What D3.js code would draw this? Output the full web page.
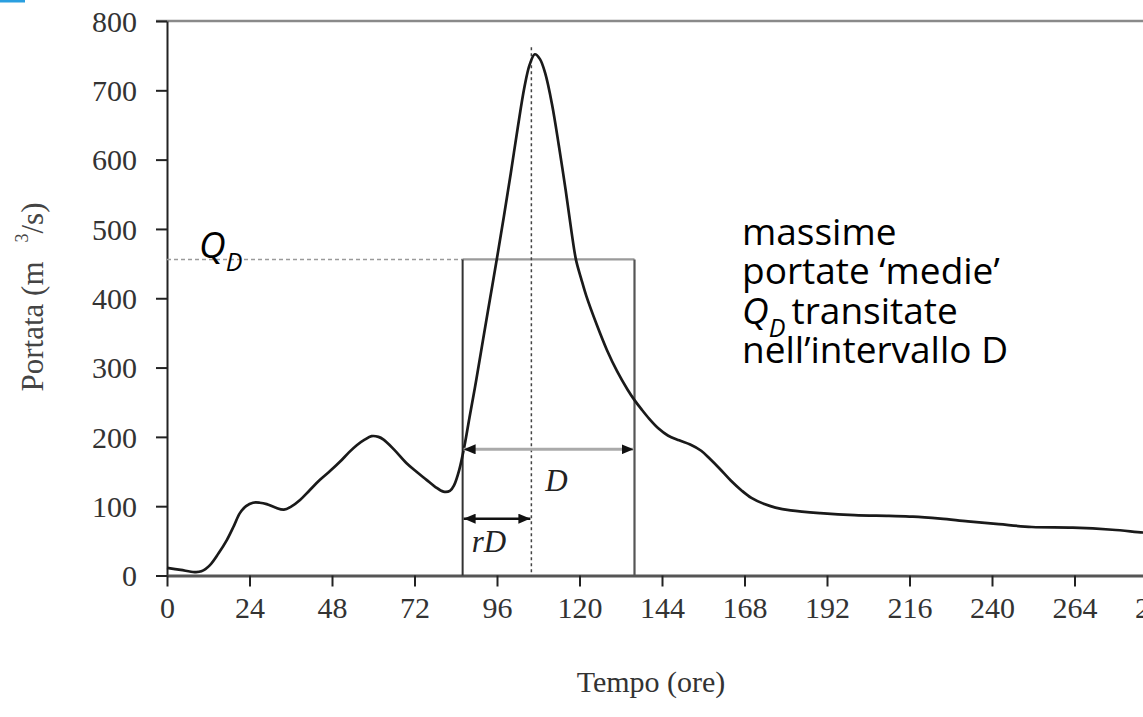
<!DOCTYPE html>
<html>
<head>
<meta charset="utf-8">
<script src="https://cdn.jsdelivr.net/npm/d3@7"></script>
<style>
  html, body { margin: 0; padding: 0; background: #fff; }
  svg { display: block; }
</style>
</head>
<body>
<svg id="chart" width="1143" height="717"></svg>
<script>
// ---- data ----
const hours   = [0, 4, 8, 10, 12.5, 15, 17.4, 19.5, 21.2, 23, 25, 27, 29, 31.5, 34, 36, 38.7, 41.5, 44.5, 47.5, 50.3, 53, 55.2, 57.5, 59.5, 61.5, 63, 66, 69.7, 72.5, 75.5, 78, 80.4, 82.3, 83.5, 85, 86.5, 88, 90, 92, 94, 96, 98, 100, 102, 104, 105.5, 107, 108.5, 110, 112, 114, 116, 117.7, 119, 120.5, 122, 125, 128, 131, 134, 136, 138, 140.3, 143, 145.7, 149, 152.2, 155.4, 158, 160.8, 164, 167.3, 170, 173.8, 177, 181.4, 190, 200, 210, 217, 225, 233, 242, 251.6, 263.5, 275, 284, 290];
const portata = [11, 8, 5, 6, 15, 32, 51, 72, 90, 100, 105, 105, 103, 98, 95, 99, 109, 123, 138, 151, 164, 178, 188, 196, 201, 200, 196, 182, 162, 150, 138, 128, 121, 122, 130, 152, 186, 228, 283, 342, 400, 458, 518, 580, 645, 705, 737, 752, 745, 725, 680, 620, 555, 495, 455, 428, 403, 362, 325, 294, 268, 253, 240, 226, 212, 202, 195, 189, 180, 168, 154, 137, 122, 112, 103, 98, 94, 90, 87, 86, 85, 82, 78, 74, 70, 69, 66, 62, 60];
const xTickValues = [0, 24, 48, 72, 96, 120, 144, 168, 192, 216, 240, 264, 288];
const yTickValues = [0, 100, 200, 300, 400, 500, 600, 700, 800];
const qD = 456;          // mean discharge over D
const dStart = 86;       // start of interval D (h)
const dEnd = 136;        // end of interval D (h)
const tPeak = 106;       // time of peak (h)
const arrowDLevel = 182;
const arrowRDLevel = 82;
const annotationLines = ["massime", "portate \u2018medie\u2019", "transitate", "nell\u2019intervallo D"];

// ---- layout ----
const svg = d3.select("#chart");
const x = d3.scaleLinear().domain([0, 288]).range([167, 1157]);
const y = d3.scaleLinear().domain([0, 800]).range([575.5, 21]);

// blue corner mark
svg.append("rect").attr("x", 0).attr("y", 0).attr("width", 25).attr("height", 2.5).attr("fill", "#2a9fe0");

// top frame line
svg.append("line")
  .attr("x1", x(0) - 11).attr("x2", 1143)
  .attr("y1", y(800)).attr("y2", y(800))
  .attr("stroke", "#8a8a8a").attr("stroke-width", 2.5);

// axes
const serif = "'Liberation Serif', 'Times New Roman', serif";
const yAxis = svg.append("g")
  .attr("transform", `translate(${x(0)},0)`)
  .call(d3.axisLeft(y).tickValues(yTickValues).tickSize(11).tickPadding(19).tickSizeOuter(0));
const xAxis = svg.append("g")
  .attr("transform", `translate(0,${y(0)})`)
  .call(d3.axisBottom(x).tickValues(xTickValues).tickSize(11).tickPadding(10).tickSizeOuter(0));

yAxis.select(".domain").attr("stroke", "#222").attr("stroke-width", 2);
yAxis.selectAll(".tick line").attr("stroke", "#222").attr("stroke-width", 2);
xAxis.select(".domain").attr("stroke", "#555").attr("stroke-width", 3);
xAxis.selectAll(".tick line").attr("stroke", "#222").attr("stroke-width", 2);
[yAxis, xAxis].forEach(g => g.selectAll(".tick text")
  .attr("font-family", serif).attr("font-size", 30).attr("fill", "#333"));
yAxis.selectAll(".tick text").attr("dy", "0.34em");

// axis titles
svg.append("text")
  .attr("x", x(144) - 11).attr("y", 692)
  .attr("text-anchor", "middle")
  .attr("font-family", serif).attr("font-size", 30).attr("fill", "#333")
  .text("Tempo (ore)");

const yTitle = svg.append("text")
  .attr("transform", "translate(43,297) rotate(-90)")
  .attr("text-anchor", "middle")
  .attr("font-family", serif).attr("font-size", 31).attr("fill", "#444");
yTitle.append("tspan").text("Portata (m");
yTitle.append("tspan").attr("dx", 19).attr("dy", -15).attr("font-size", 18).text("3");
yTitle.append("tspan").attr("dy", 15).text("/s)");

// dashed Q_D line
svg.append("line")
  .attr("x1", x(0)).attr("x2", x(dStart))
  .attr("y1", y(qD)).attr("y2", y(qD))
  .attr("stroke", "#9a9a9a").attr("stroke-width", 1.6).attr("stroke-dasharray", "4,3");

// rectangle of mean discharge
svg.append("line")
  .attr("x1", x(dStart)).attr("x2", x(dEnd))
  .attr("y1", y(qD)).attr("y2", y(qD))
  .attr("stroke", "#9a9a9a").attr("stroke-width", 2.2);
svg.append("line")
  .attr("x1", x(dStart)).attr("x2", x(dStart))
  .attr("y1", y(qD)).attr("y2", y(0))
  .attr("stroke", "#333").attr("stroke-width", 2);
svg.append("line")
  .attr("x1", x(dEnd)).attr("x2", x(dEnd))
  .attr("y1", y(qD)).attr("y2", y(0))
  .attr("stroke", "#555").attr("stroke-width", 2.2);

// dotted peak line
svg.append("line")
  .attr("x1", x(tPeak)).attr("x2", x(tPeak))
  .attr("y1", y(762)).attr("y2", y(0))
  .attr("stroke", "#444").attr("stroke-width", 1.5).attr("stroke-dasharray", "3,3");

// hydrograph
const lineGen = d3.line()
  .x((d, i) => x(hours[i]))
  .y(d => y(d))
  .curve(d3.curveCatmullRom.alpha(0.5));
svg.append("path")
  .datum(portata)
  .attr("d", lineGen)
  .attr("fill", "none")
  .attr("stroke", "#1a1a1a").attr("stroke-width", 2.7)
  .attr("stroke-linejoin", "round");

// arrow markers
const defs = svg.append("defs");
defs.append("marker")
  .attr("id", "arrowEnd")
  .attr("markerUnits", "userSpaceOnUse")
  .attr("viewBox", "0 0 12 10")
  .attr("refX", 12).attr("refY", 5)
  .attr("markerWidth", 12).attr("markerHeight", 10)
  .attr("orient", "auto")
  .append("path").attr("d", "M0,0 L12,5 L0,10 Z").attr("fill", "#111");
defs.append("marker")
  .attr("id", "arrowStart")
  .attr("markerUnits", "userSpaceOnUse")
  .attr("viewBox", "0 0 12 10")
  .attr("refX", 0).attr("refY", 5)
  .attr("markerWidth", 12).attr("markerHeight", 10)
  .attr("orient", "auto")
  .append("path").attr("d", "M12,0 L0,5 L12,10 Z").attr("fill", "#111");

svg.append("line")
  .attr("x1", x(dStart) + 1).attr("x2", x(dEnd) - 1)
  .attr("y1", y(arrowDLevel)).attr("y2", y(arrowDLevel))
  .attr("stroke", "#aaa").attr("stroke-width", 3)
  .attr("marker-start", "url(#arrowStart)").attr("marker-end", "url(#arrowEnd)");
svg.append("line")
  .attr("x1", x(dStart) + 1).attr("x2", x(tPeak) - 1)
  .attr("y1", y(arrowRDLevel)).attr("y2", y(arrowRDLevel))
  .attr("stroke", "#111").attr("stroke-width", 2.5)
  .attr("marker-start", "url(#arrowStart)").attr("marker-end", "url(#arrowEnd)");

// D and rD labels
svg.append("text")
  .attr("x", x((dStart + dEnd) / 2) + 8).attr("y", 491)
  .attr("text-anchor", "middle")
  .attr("font-family", serif).attr("font-style", "italic").attr("font-size", 31).attr("fill", "#222")
  .text("D");
svg.append("text")
  .attr("x", 489).attr("y", 552)
  .attr("text-anchor", "middle")
  .attr("font-family", serif).attr("font-style", "italic").attr("font-size", 31).attr("fill", "#222")
  .text("rD");

// Q_D label (left)
const sans = "'Open Sans', 'Liberation Sans', sans-serif";
const qLeft = svg.append("text")
  .attr("x", 199).attr("y", 258)
  .attr("font-family", sans).attr("font-style", "italic").attr("font-size", 37).attr("fill", "#000");
qLeft.append("tspan").text("Q");
qLeft.append("tspan").attr("dy", 13).attr("font-size", 25).text("D");

// annotation
const annX = 742;
const base = [245, 284, 324, 363];
const ann = svg.append("g").attr("font-family", sans).attr("font-size", 37).attr("fill", "#000");
ann.append("text").attr("x", annX).attr("y", base[0]).text(annotationLines[0]);
ann.append("text").attr("x", annX).attr("y", base[1]).text(annotationLines[1]);
const l3 = ann.append("text").attr("x", annX).attr("y", base[2]);
l3.append("tspan").attr("font-style", "italic").text("Q");
l3.append("tspan").attr("font-style", "italic").attr("font-size", 25).attr("dy", 13).text("D");
l3.append("tspan").attr("dy", -13).text("\u2009" + annotationLines[2]);
ann.append("text").attr("x", annX).attr("y", base[3]).text(annotationLines[3]);
</script>
</body>
</html>
